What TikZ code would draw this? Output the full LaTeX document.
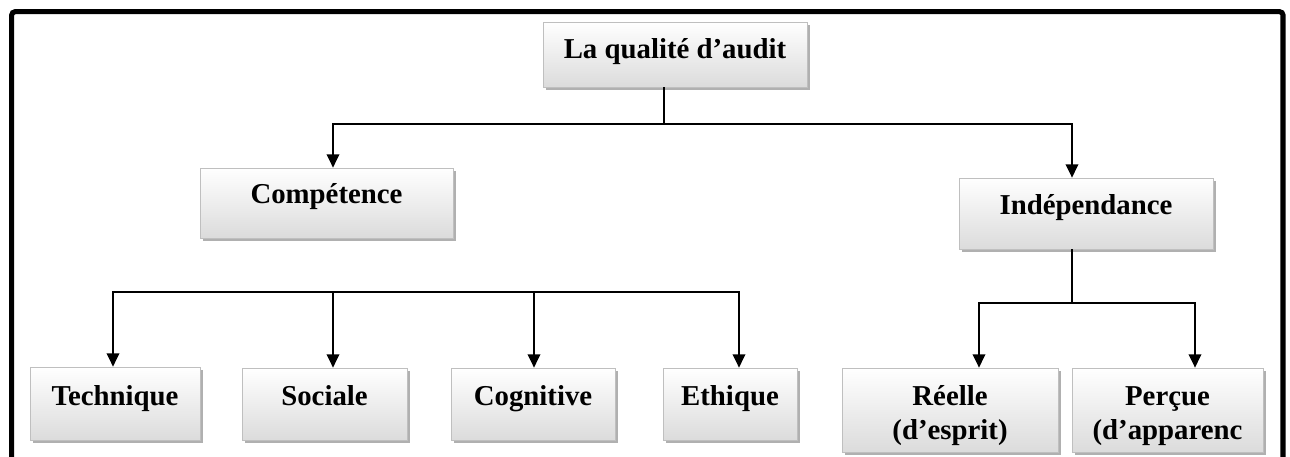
\documentclass[tikz,border=0pt]{standalone}
\usepackage{fontspec}
\setmainfont{Liberation Serif}
\usetikzlibrary{shadows,arrows.meta,calc}
\begin{document}
\begin{tikzpicture}[x=0.75pt,y=-0.75pt,
  box/.style={rectangle, draw=gray!50, line width=0.6pt, top color=white, bottom color=gray!28,
    drop shadow={shadow xshift=2.2pt, shadow yshift=-2.2pt, fill=gray!62, opacity=1},
    inner sep=0pt},
  lbl/.style={font=\bfseries\fontsize{21.6}{25.5}\selectfont, anchor=base, inner sep=0pt},
  conn/.style={line width=1.3pt, black},
  arr/.style={conn, -{Triangle[width=9.5pt,length=10pt]}},
  frame/.style={line width=3.8pt, black, rounded corners=2.5pt}]
\useasboundingbox (0,0) rectangle (1290,457);
\clip (0,0) rectangle (1290,457);
\fill[white] (0,0) rectangle (1290,457);
% outer frame
\draw[frame] (11.7,480) -- (11.7,11.7) -- (1283,11.7) -- (1283,480);
% boxes
\node[box, minimum width=264*0.75pt, minimum height=65*0.75pt] (top) at (675,54.5) {};
\node[box, minimum width=253*0.75pt, minimum height=70*0.75pt] (comp) at (326.5,203) {};
\node[box, minimum width=254*0.75pt, minimum height=71*0.75pt] (indep) at (1086,213.5) {};
\node[box, minimum width=170*0.75pt, minimum height=73*0.75pt] (tech) at (115,403.5) {};
\node[box, minimum width=165*0.75pt, minimum height=72*0.75pt] (soc) at (324.5,404) {};
\node[box, minimum width=164*0.75pt, minimum height=72*0.75pt] (cog) at (533,404) {};
\node[box, minimum width=134*0.75pt, minimum height=72*0.75pt] (eth) at (730,404) {};
\node[box, minimum width=216*0.75pt, minimum height=84*0.75pt] (reel) at (950,410) {};
\node[box, minimum width=191*0.75pt, minimum height=84*0.75pt] (perc) at (1167.5,410) {};
% texts
\node[lbl] (ttop) at (675,58) {La qualité d’audit};
\node[lbl] (tcomp) at (326.5,203) {Compétence};
\node[lbl] (tindep) at (1086,214) {Indépendance};
\node[lbl] (ttech) at (115,405) {Technique};
\node[lbl] (tsoc) at (324.5,405) {Sociale};
\node[lbl] (tcog) at (533,405) {Cognitive};
\node[lbl] (teth) at (730,405) {Ethique};
\node[lbl] (treel1) at (950,405) {Réelle};
\node[lbl] (treel2) at (950,439) {(d’esprit)};
\node[lbl] (tperc1) at (1167.5,405) {Perçue};
\node[lbl] (tperc2) at (1167.5,439) {(d’apparenc};
% connectors level 1
\coordinate (b1) at (664,124);
\coordinate (ca) at (333,124);
\coordinate (ia) at (1072,124);
\draw[conn] (b1 |- top.south) -- (b1);
\draw[arr] (b1) -- (ca) -- (ca |- comp.north);
\draw[arr] (b1) -- (ia) -- (ia |- indep.north);
% competence branches
\coordinate (h1) at (113,292);
\coordinate (h2) at (333,292);
\coordinate (h3) at (534,292);
\coordinate (h4) at (739,292);
\draw[arr] (h2) -- (h1) -- (h1 |- tech.north);
\draw[arr] (h2) -- (h2 |- soc.north);
\draw[arr] (h2) -- (h3) -- (h3 |- cog.north);
\draw[arr] (h3) -- (h4) -- (h4 |- eth.north);
% independance branches
\coordinate (i0) at (1072,303);
\coordinate (i1) at (979,303);
\coordinate (i2) at (1195,303);
\draw[conn] (i0 |- indep.south) -- (i0);
\draw[arr] (i0) -- (i1) -- (i1 |- reel.north);
\draw[arr] (i0) -- (i2) -- (i2 |- perc.north);
\end{tikzpicture}
\end{document}
